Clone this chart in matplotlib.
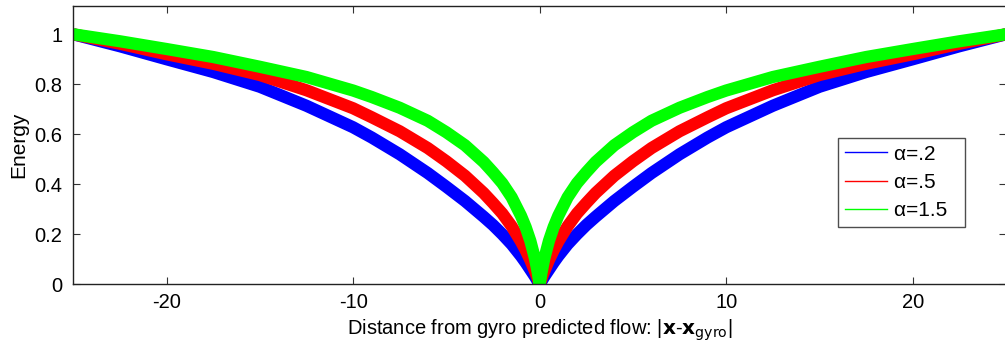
import numpy as np
import matplotlib
matplotlib.use("Agg")
import matplotlib.pyplot as plt
from matplotlib.lines import Line2D

# distance samples (positive half; curves are mirrored about 0)
distance = [0, 0.1, 0.25, 0.5, 0.75, 1, 1.5, 2, 2.5, 3, 4, 5, 6, 7.5, 9,
            10, 12.5, 15, 17.5, 20, 22.5, 25]
energy_a02 = [0, 0.012, 0.031, 0.059, 0.087, 0.113, 0.16, 0.2, 0.237,
              0.27, 0.333, 0.39, 0.445, 0.52, 0.587, 0.628, 0.714, 0.79,
              0.849, 0.9, 0.952, 1.0]
energy_a05 = [0, 0.022, 0.052, 0.097, 0.136, 0.171, 0.232, 0.283, 0.325,
              0.365, 0.434, 0.492, 0.545, 0.612, 0.668, 0.704, 0.776, 0.837,
              0.882, 0.92, 0.962, 1.0]
energy_a15 = [0, 0.046, 0.103, 0.174, 0.229, 0.274, 0.348, 0.404, 0.448,
              0.489, 0.556, 0.608, 0.654, 0.706, 0.749, 0.775, 0.829, 0.87,
              0.909, 0.941, 0.972, 1.0]
labels = ["α=.2", "α=.5", "α=1.5"]
colors = ["#0000ff", "#ff0000", "#00ff00"]
xticks = [-20, -10, 0, 10, 20]
yticks = [0, 0.2, 0.4, 0.6, 0.8, 1]
yticklabels = ["0", "0.2", "0.4", "0.6", "0.8", "1"]

plt.rcParams['font.family'] = ['Liberation Sans', 'DejaVu Sans']

fig = plt.figure(figsize=(10.05, 3.47), dpi=100)
ax = fig.add_axes([0.0729, 0.1807, 0.9281, 0.802])

d = np.asarray(distance, dtype=float)
xfull = np.concatenate([-d[::-1], d[1:]])
for vals, col in zip([energy_a02, energy_a05, energy_a15], colors):
    v = np.asarray(vals, dtype=float)
    yfull = np.concatenate([v[::-1], v[1:]])
    ax.plot(xfull, yfull, color=col, lw=8.8, solid_joinstyle='round',
            solid_capstyle='butt')

ax.set_xlim(-25, 25)
ax.set_ylim(0, 1.113)
ax.set_xticks(xticks)
ax.set_xticklabels([str(t) for t in xticks])
ax.set_yticks(yticks)
ax.set_yticklabels(yticklabels)
ax.tick_params(direction='in', length=5, width=0.8, top=True, right=True,
               labelsize=14.5, color='#333333')
ax.tick_params(axis='x', pad=6)
ax.tick_params(axis='y', pad=8)
for s in ax.spines.values():
    s.set_linewidth(1.0)
    s.set_color('#222222')

ax.set_xlabel(r'Distance from gyro predicted flow: |$\mathbf{x}$-$\mathbf{x}_{\mathrm{gyro}}$|',
              fontsize=14.5, labelpad=4)
ax.set_ylabel('Energy', fontsize=15, labelpad=4)

handles = [Line2D([0], [0], color=c, lw=1.0) for c in colors]
leg = ax.legend(handles, [l + "  " for l in labels], loc='upper left',
                bbox_to_anchor=(0.8204, 0.5246), borderaxespad=0,
                fontsize=15, frameon=True, fancybox=False, edgecolor='#222222',
                handlelength=2.05, handletextpad=0.3, labelspacing=0.45,
                borderpad=0.3)
leg.get_frame().set_linewidth(1.0)

fig.savefig('out.png', dpi=100)
